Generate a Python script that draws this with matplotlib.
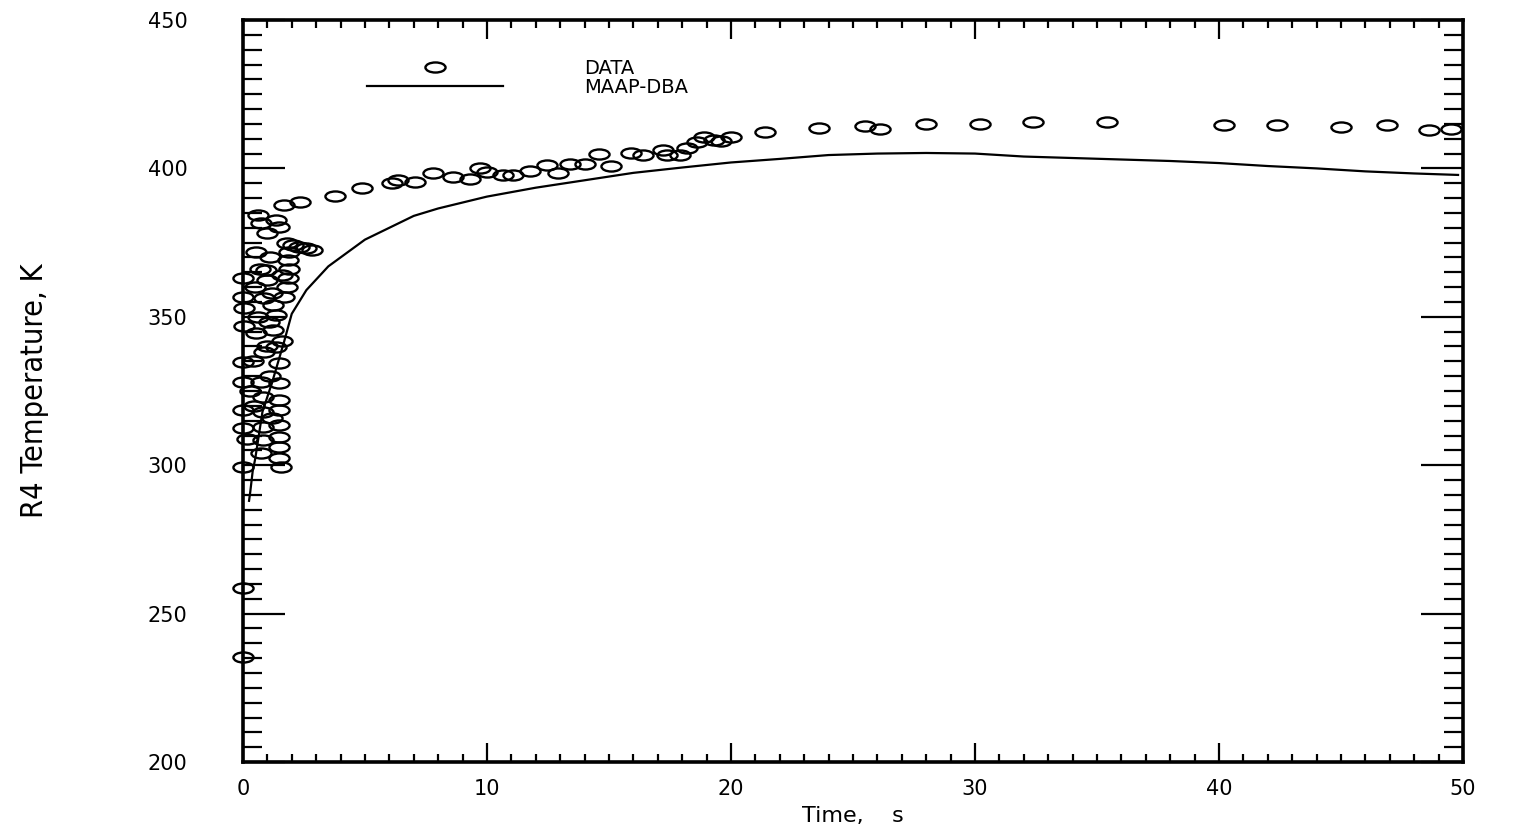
import numpy as np
import matplotlib
matplotlib.use("Agg")
import matplotlib.pyplot as plt
from matplotlib.path import Path
from matplotlib.transforms import Affine2D
from matplotlib.ticker import MultipleLocator
from matplotlib import font_manager

# Measured thermocouple data (time in s, temperature in K)
data_time = [
    0.0, 0.0, 0.0, 0.15, 0.0, 0.0, 0.0, 0.0, 0.05, 0.05, 0.0, 0.0,
    0.53, 0.53, 0.6, 0.74, 0.74, 0.74, 0.82, 0.82, 0.82, 0.82, 0.86, 0.86,
    0.94, 1.0, 1.0, 1.07, 1.23, 1.23, 1.35, 1.35, 1.35, 1.48, 1.48, 1.48,
    1.48, 1.48, 1.48, 1.48, 1.48, 1.48, 1.56,
    0.45, 0.4, 0.6, 0.5, 0.7, 1.1, 1.2, 1.6, 1.6, 1.1, 1.2, 0.3, 1.0,
    1.7, 1.8, 1.85, 1.9, 1.85, 1.9, 1.8, 2.05, 2.3, 2.6, 2.85, 1.68, 2.34,
    3.77, 4.9, 6.1, 6.35, 7.05, 7.8, 8.6, 9.3, 9.7, 10.0, 10.66, 11.07,
    11.76, 12.46, 12.9, 13.4, 14.0, 14.6, 15.1, 15.9, 16.4, 17.2, 17.4,
    17.9, 18.2, 18.6, 18.9, 19.3, 19.6, 20.0, 21.4, 23.6, 25.5, 26.1,
    28.0, 30.2, 32.4, 35.4, 40.2, 42.4, 45.0, 46.9, 48.6, 49.5,
]
data_temp = [
    235.5, 258.5, 299.5, 309.0, 312.5, 318.5, 328.0, 334.8, 347.0, 353.0, 356.7, 363.0,
    344.5, 371.8, 384.3, 381.6, 328.0, 304.0, 323.0, 317.9, 312.9, 308.5, 338.1, 356.3,
    365.8, 362.4, 378.2, 348.2, 354.0, 345.5, 350.6, 339.8, 382.6, 380.3, 334.4, 327.7,
    322.0, 318.6, 313.5, 309.5, 306.1, 302.4, 299.4,
    320.0, 335.0, 350.0, 360.0, 366.0, 370.0, 358.0, 364.0, 342.0, 330.0, 316.0, 325.0, 340.0,
    356.7, 360.0, 363.0, 366.0, 369.0, 372.0, 374.9, 374.2, 373.5, 373.2, 372.5, 387.7, 388.7,
    390.7, 393.4, 395.1, 396.1, 395.4, 398.5, 397.1, 396.4, 400.1, 398.8, 397.8, 397.8,
    399.2, 401.2, 398.5, 401.5, 401.5, 404.9, 400.9, 405.2, 404.5, 406.2, 404.5,
    404.5, 406.9, 408.9, 410.6, 409.6, 409.2, 410.6, 412.3, 413.6, 414.3, 413.3,
    415.0, 415.0, 415.6, 415.6, 414.6, 414.6, 413.9, 414.6, 412.9, 413.3,
]

# MAAP-DBA calculation
model_time = [0.25, 0.3, 0.4, 0.5, 0.8, 1.2, 1.7, 2.0, 2.6, 3.5, 4.0, 5.0, 6.0,
              7.0, 8.0, 10.0, 12.0, 14.0, 16.0, 18.0, 20.0, 22.0, 24.0, 26.0,
              28.0, 30.0, 32.0, 34.0, 36.0, 38.0, 40.0, 42.0, 44.0, 46.0, 48.0, 49.8]
model_temp = [288.0, 291.0, 298.0, 302.0, 318.0, 328.0, 342.0, 351.0, 359.0, 367.0,
              370.0, 376.0, 380.0, 384.0, 386.5, 390.5, 393.5, 396.0, 398.5, 400.3,
              402.0, 403.2, 404.5, 405.0, 405.2, 405.0, 404.0, 403.5, 403.0, 402.5,
              401.8, 400.8, 400.0, 399.0, 398.3, 397.8]

x_ticks = [0, 10, 20, 30, 40, 50]
y_ticks = [200, 250, 300, 350, 400, 450]

# Flattened open ellipse used as the data marker
ellipse = Path.unit_circle().transformed(Affine2D().scale(1.0, 0.5))

# Narrow face for the vertical axis title, if one is available
narrow_families = {f.name for f in font_manager.fontManager.ttflist}
if "Liberation Sans Narrow" in narrow_families:
    ylabel_font = dict(family=["Liberation Sans Narrow", "DejaVu Sans"])
else:
    ylabel_font = dict(family=["DejaVu Sans"], stretch="condensed")

fig = plt.figure(figsize=(15.25, 8.3), dpi=100)
ax = fig.add_axes([0.1593, 0.0819, 0.8, 0.894])

ax.plot(model_time, model_temp, color="black", lw=1.6, label="MAAP-DBA", zorder=2)
ax.plot(data_time, data_temp, linestyle="none", marker=ellipse, ms=14.5,
        mfc="none", mec="black", mew=1.7, label="DATA", zorder=3, clip_on=False)

ax.set_xlim(0, 50)
ax.set_ylim(200, 450)
ax.set_xticks(x_ticks)
ax.set_yticks(y_ticks)
ax.xaxis.set_minor_locator(MultipleLocator(1))
ax.yaxis.set_minor_locator(MultipleLocator(5))

for s in ax.spines.values():
    s.set_linewidth(2.6)

ax.tick_params(which="both", direction="in", top=True, right=True,
               color="black", width=1.6, labelsize=15)
ax.tick_params(axis="x", which="major", length=14, pad=12)
ax.tick_params(axis="x", which="minor", length=6)
ax.tick_params(axis="y", which="major", length=30, pad=40)
ax.tick_params(axis="y", which="minor", length=14)

ax.set_xlabel("Time,    s", fontsize=16, labelpad=5)
ax.set_ylabel("R4 Temperature, K", fontsize=22, labelpad=71, **ylabel_font)

handles, labels = ax.get_legend_handles_labels()
leg = ax.legend(handles[::-1], labels[::-1], loc="upper left",
                bbox_to_anchor=(0.0935, 0.961), frameon=False, fontsize=14,
                handlelength=7.0, handletextpad=4.2, labelspacing=0.0,
                borderpad=0.0, numpoints=1)

fig.savefig("out.png", dpi=100, facecolor="white")
